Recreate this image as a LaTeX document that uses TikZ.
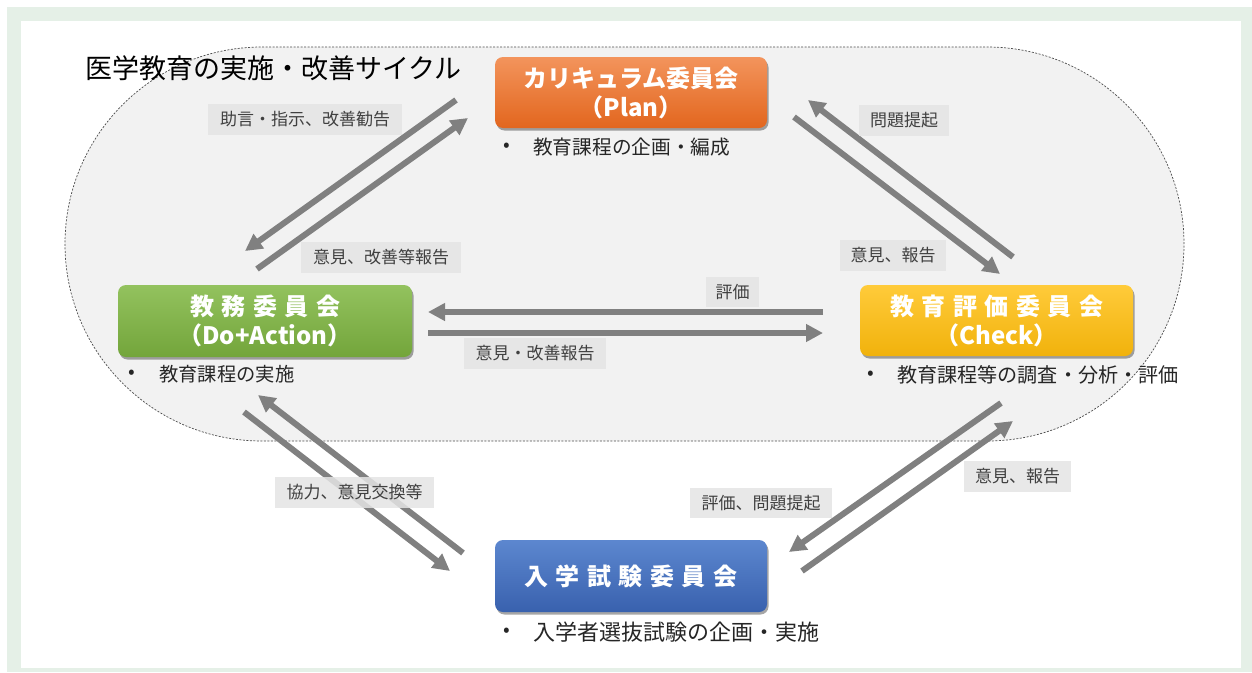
\documentclass[tikz,border=0pt]{standalone}
\usepackage{fontspec}
\setmainfont{Noto Sans CJK JP}
\usetikzlibrary{arrows.meta,shadows}
\definecolor{framegreen}{HTML}{E5F0E7}
\definecolor{cyclefill}{HTML}{F2F2F2}
\definecolor{labelfill}{HTML}{E4E4E4}
\definecolor{arrowgray}{HTML}{808080}
\definecolor{labeltext}{HTML}{404040}
\definecolor{orangeT}{HTML}{F3945C}
\definecolor{orangeB}{HTML}{E2661E}
\definecolor{greenT}{HTML}{93C25E}
\definecolor{greenB}{HTML}{73A53B}
\definecolor{yellowT}{HTML}{FFCB3A}
\definecolor{yellowB}{HTML}{F1B20C}
\definecolor{blueT}{HTML}{5C87CF}
\definecolor{blueB}{HTML}{3961AE}
\newcommand\ls{\hspace{7.5pt}}
\tikzset{
  cbox/.style={rounded corners=8pt, minimum width=272pt, minimum height=71pt, inner sep=0pt,
    text=white, font=\bfseries\fontsize{24}{29}\selectfont, align=center,
    drop shadow={shadow xshift=1.5pt, shadow yshift=-2.5pt, opacity=0.35, fill=black}},
  flowarrow/.style={draw=arrowgray, line width=6pt, -{Triangle[length=17pt,width=17pt]}},
  flowlabel/.style={fill=labelfill, fill opacity=0.85, text opacity=1, text=labeltext,
    font=\fontsize{17}{20}\selectfont, inner xsep=8pt, minimum height=31pt},
  bullettext/.style={anchor=west, text=black!85, font=\fontsize{19.7}{22}\selectfont, inner sep=0pt}
}
\begin{document}
\begin{tikzpicture}[x=1pt,y=-1pt]
\useasboundingbox (0,0) rectangle (1252,672);
% frame
\fill[framegreen] (7,7) rectangle (1252,672);
\fill[white] (21,21) rectangle (1241,668);
% cycle region
\draw[fill=cyclefill, draw=black!70, line width=0.7pt, dash pattern=on 2pt off 1.5pt, rounded corners=196.9pt]
  (65,47) rectangle (1184,441);
\node[anchor=west, font=\fontsize{27}{30}\selectfont, inner sep=0pt] (title) at (85,68) {医学教育の実施・改善サイクル};
% boxes
\node[cbox, top color=orangeT, bottom color=orangeB] (plan) at (631,92.5) {カリキュラム委員会\\（Plan）};
\node[cbox, minimum width=294pt, minimum height=72pt, top color=greenT, bottom color=greenB] (do) at (265,321) {教\ls 務\ls 委\ls 員\ls 会\\（Do+Action）};
\node[cbox, minimum width=273pt, top color=yellowT, bottom color=yellowB] (check) at (996.5,320.5) {教\ls 育\ls 評\ls 価\ls 委\ls 員\ls 会\\（Check）};
\node[cbox, minimum height=72pt, top color=blueT, bottom color=blueB] (exam) at (631,576) {入\ls 学\ls 試\ls 験\ls 委\ls 員\ls 会};
% bullets
\node[bullettext] (b1) at (503,147) {•};
\node[bullettext] (t1) at (533,147) {教育課程の企画・編成};
\node[bullettext] (b2) at (128,374) {•};
\node[bullettext, font=\fontsize{19.3}{22}\selectfont] (t2) at (159,374) {教育課程の実施};
\node[bullettext] (b3) at (867,375) {•};
\node[bullettext, font=\fontsize{20.1}{22}\selectfont] (t3) at (897,375) {教育課程等の調査・分析・評価};
\node[bullettext] (b4) at (503,632) {•};
\node[bullettext, font=\fontsize{22}{24}\selectfont] (t4) at (533,632) {入学者選抜試験の企画・実施};
% arrow end points
\coordinate (a1s) at (456,100);  \coordinate (a1e) at (245,251);
\coordinate (a2s) at (257,269);  \coordinate (a2e) at (468,118);
\coordinate (a3s) at (1013,257); \coordinate (a3e) at (808,100);
\coordinate (a4s) at (794,117);  \coordinate (a4e) at (1000,274);
\coordinate (a5s) at (823,312);  \coordinate (a5e) at (428,312);
\coordinate (a6s) at (428,333);  \coordinate (a6e) at (823,333);
\coordinate (a7s) at (463,553);  \coordinate (a7e) at (258,395);
\coordinate (a8s) at (244,412);  \coordinate (a8e) at (450,571);
\coordinate (a9s) at (1001,403); \coordinate (a9e) at (789,552);
\coordinate (a10s) at (802,571); \coordinate (a10e) at (1013,421);
\foreach \i in {1,...,10} {\draw[flowarrow] (a\i s) -- (a\i e);}
% labels
\node[flowlabel, minimum width=194pt] (l1) at (305,119) {助言・指示、改善勧告};
\node[flowlabel, minimum width=160pt] (l2) at (381,257.5) {意見、改善等報告};
\node[flowlabel, minimum width=90pt] (l3) at (904,120.5) {問題提起};
\node[flowlabel, minimum width=106pt] (l4) at (893,255.5) {意見、報告};
\node[flowlabel, minimum width=53pt, minimum height=30pt] (l5) at (732.5,292) {評価};
\node[flowlabel, minimum width=142pt] (l6) at (535,353.5) {意見・改善報告};
\node[flowlabel, minimum width=159pt] (l7) at (354.5,492.5) {協力、意見交換等};
\node[flowlabel, minimum width=142pt, minimum height=30pt] (l8) at (761,503) {評価、問題提起};
\node[flowlabel, minimum width=107pt] (l9) at (1017.5,476.5) {意見、報告};
\end{tikzpicture}
\end{document}
